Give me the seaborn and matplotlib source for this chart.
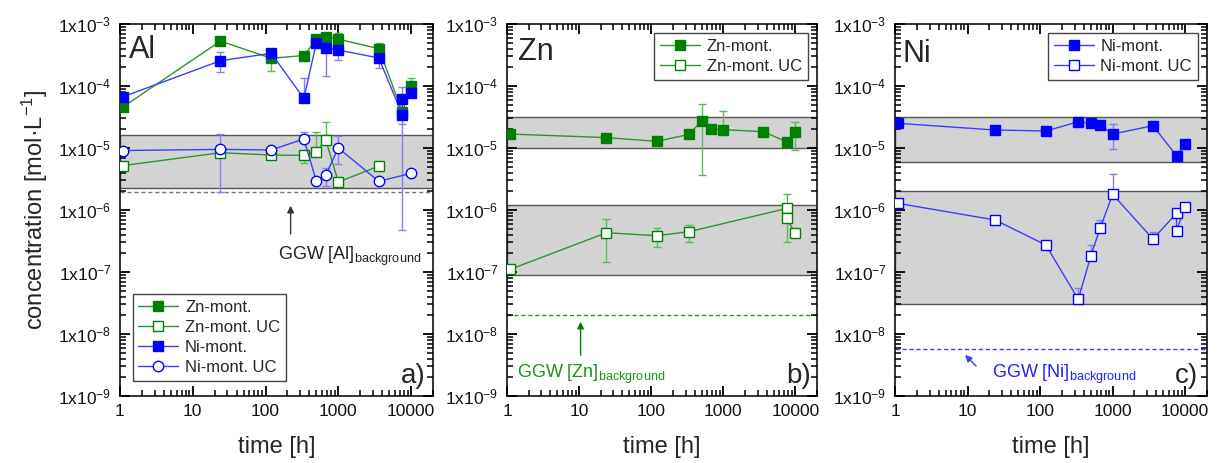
import numpy as np
import matplotlib
matplotlib.use("Agg")
import matplotlib.pyplot as plt
from matplotlib.ticker import FixedLocator, LogLocator, FuncFormatter, NullFormatter
import seaborn as sns

sns.set_theme(style="ticks")
plt.rcParams["font.family"] = ["Liberation Sans", "DejaVu Sans"]
plt.rcParams["mathtext.default"] = "regular"

# ---------------- data ----------------
# (a) aluminium release
al_zn_t = [1.1, 24, 120, 336, 500, 672, 1000, 3600, 7600, 10000]
al_zn_c = [4.6e-5, 5.3e-4, 2.8e-4, 3.1e-4, 5.7e-4, 6.2e-4, 5.7e-4, 4.0e-4, 3.8e-5, 1.0e-4]
al_zn_lo = [None, None, 1.75e-4, None, None, None, None, 3.3e-4, 3.0e-5, 7.5e-5]
al_zn_hi = [None, None, None, None, None, 7.0e-4, 7.1e-4, 5.0e-4, None, 1.33e-4]

al_ni_t = [1.1, 24, 120, 336, 500, 672, 1000, 3600, 7600, 7600, 10000]
al_ni_c = [6.7e-5, 2.56e-4, 3.37e-4, 6.3e-5, 5.0e-4, 4.15e-4, 3.8e-4, 2.83e-4, 3.4e-5, 6.2e-5, 7.6e-5]
al_ni_lo = [None, 1.68e-4, None, None, 4.3e-4, 1.47e-4, 2.63e-4, 1.93e-4, 2.44e-5, 4.75e-7, None]
al_ni_hi = [None, 3.5e-4, None, 1.33e-4, 5.9e-4, None, None, None, None, 9.8e-5, None]

al_znuc_t = [1.1, 24, 120, 336, 500, 672, 1000, 3600]
al_znuc_c = [5.2e-6, 8.4e-6, 7.7e-6, 7.6e-6, 8.7e-6, 1.35e-5, 2.83e-6, 5.1e-6]
al_znuc_lo = [None, None, None, 5.7e-6, None, None, None, None]
al_znuc_hi = [None, None, None, None, 1.8e-5, 2.66e-5, None, None]

al_niuc_t = [1.1, 24, 120, 336, 500, 672, 1000, 3600, 10000]
al_niuc_c = [9.1e-6, 9.5e-6, 9.3e-6, 1.4e-5, 2.9e-6, 3.67e-6, 1.0e-5, 2.9e-6, 3.9e-6]
al_niuc_lo = [None, 1.93e-6, None, None, None, 2.4e-6, 5.5e-6, None, None]
al_niuc_hi = [None, 1.66e-5, None, 1.79e-5, None, 4.8e-6, 1.58e-5, None, None]

al_bands = [(2.3e-6, 1.62e-5)]
al_ggw = 1.93e-6

# (b) zinc release
zn_t = [1.1, 24, 120, 336, 500, 672, 1000, 3600, 7600, 10000]
zn_c = [1.68e-5, 1.47e-5, 1.28e-5, 1.66e-5, 2.72e-5, 2.0e-5, 1.98e-5, 1.83e-5, 1.26e-5, 1.79e-5]
zn_lo = [None, None, None, None, 3.7e-6, None, None, None, None, 9.4e-6]
zn_hi = [None, None, None, None, 5.1e-5, None, 3.95e-5, None, None, 2.63e-5]

znuc_t = [1.1, 24, 120, 336, 7600, 7600, 10000]
znuc_c = [1.1e-7, 4.3e-7, 3.85e-7, 4.47e-7, 1.06e-6, 7.3e-7, 4.2e-7]
znuc_lo = [None, 1.47e-7, 2.57e-7, 3.09e-7, None, 3.1e-7, None]
znuc_hi = [None, 7.2e-7, 5.06e-7, 5.7e-7, 1.8e-6, None, None]

zn_bands = [(1.0e-5, 3.2e-5), (9.0e-8, 1.19e-6)]
zn_ggw = 2.0e-8

# (c) nickel release
ni_t = [1.1, 24, 120, 336, 500, 672, 1000, 3600, 7600, 10000]
ni_c = [2.5e-5, 1.95e-5, 1.88e-5, 2.65e-5, 2.5e-5, 2.35e-5, 1.68e-5, 2.29e-5, 7.5e-6, 1.16e-5]
ni_lo = [None, None, None, None, None, None, 9.8e-6, None, None, None]
ni_hi = [None, None, None, None, None, None, 2.4e-5, None, None, None]

niuc_t = [1.1, 24, 120, 336, 500, 672, 1000, 3600, 7600, 7600, 10000]
niuc_c = [1.28e-6, 6.9e-7, 2.73e-7, 3.63e-8, 1.81e-7, 5.07e-7, 1.79e-6, 3.4e-7, 8.85e-7, 4.65e-7, 1.13e-6]
niuc_lo = [None, None, None, None, None, None, None, 2.8e-7, None, None, None]
niuc_hi = [None, None, None, 5.5e-8, 2.7e-7, 6.9e-7, 3.77e-6, 4.5e-7, 1.03e-6, None, None]

ni_bands = [(6.0e-6, 3.13e-5), (3.0e-8, 2.0e-6)]
ni_ggw = 5.7e-9

x_ticks = [1, 10, 100, 1000, 10000]
x_tick_labels = ["1", "10", "100", "1000", "10000"]
y_decades = [1e-9, 1e-8, 1e-7, 1e-6, 1e-5, 1e-4, 1e-3]

# ---------------- style ----------------
GREEN = "#008000"
GREEN_LINE = "#2a962a"
GREEN_ERR = "#5cb85c"
BLUE = "#0000ff"
BLUE_LINE = "#3c3cff"
BLUE_ERR = "#8080ff"

fig = plt.figure(figsize=(12.2, 4.63), dpi=100)
ax_a = fig.add_axes([120 / 1220, 67 / 463, 313 / 1220, 372 / 463])
ax_b = fig.add_axes([507 / 1220, 67 / 463, 310 / 1220, 372 / 463])
ax_c = fig.add_axes([895 / 1220, 67 / 463, 312 / 1220, 372 / 463])


def series(ax, t, c, lo, hi, color, line_color, err_color, marker, filled, label, ms=6.5):
    face = color if filled else "white"
    sns.lineplot(x=t, y=c, ax=ax, sort=False, estimator=None, color=line_color,
                 lw=1.0, marker=marker, markersize=ms, markerfacecolor=face,
                 markeredgecolor=color, markeredgewidth=1.0, label=label, zorder=4)
    idx = [i for i in range(len(c)) if lo[i] is not None or hi[i] is not None]
    if idx:
        tx = [t[i] for i in idx]
        cy = [c[i] for i in idx]
        el = [c[i] - lo[i] if lo[i] is not None else 0.0 for i in idx]
        eh = [hi[i] - c[i] if hi[i] is not None else 0.0 for i in idx]
        ax.errorbar(tx, cy, yerr=[el, eh], fmt="none", ecolor=err_color,
                    elinewidth=1.0, capsize=3, capthick=1.0, zorder=3)


def decorate(ax, bands, ggw, ggw_color):
    for lo, hi in bands:
        ax.axhspan(lo, hi, facecolor="#d3d3d3", edgecolor="#555555", lw=1.0, zorder=0)
    ax.axhline(ggw, color=ggw_color, lw=1.0, ls=(0, (3, 2)), zorder=1)
    ax.set_xscale("log")
    ax.set_yscale("log")
    ax.set_xlim(1, 2e4)
    ax.set_ylim(1e-9, 1e-3)
    ax.set_axisbelow(False)
    ax.xaxis.set_major_locator(FixedLocator(x_ticks))
    ax.xaxis.set_major_formatter(FuncFormatter(
        lambda v, p: x_tick_labels[x_ticks.index(round(v))] if round(v) in x_ticks else ""))
    ax.xaxis.set_minor_locator(LogLocator(base=10, subs=np.arange(2, 10), numticks=20))
    ax.xaxis.set_minor_formatter(NullFormatter())
    ax.yaxis.set_major_locator(FixedLocator(y_decades))
    ax.yaxis.set_major_formatter(FuncFormatter(lambda v, p: "1x10$^{%d}$" % int(round(np.log10(v)))))
    ax.yaxis.set_minor_locator(LogLocator(base=10, subs=np.arange(2, 10), numticks=20))
    ax.yaxis.set_minor_formatter(NullFormatter())
    ax.tick_params(which="both", direction="in", top=True, right=True, bottom=True, left=True,
                   color="black", width=1.3)
    ax.tick_params(which="major", length=7, labelsize=12.5, pad=6, labelcolor="#111111")
    ax.tick_params(which="minor", length=4, width=1.1)
    for s in ax.spines.values():
        s.set_color("#222222")
        s.set_linewidth(1.3)
    ax.set_xlabel("time [h]", fontsize=17, labelpad=12)
    ax.set_ylabel("")


# ---- panel a ----
series(ax_a, al_zn_t, al_zn_c, al_zn_lo, al_zn_hi, GREEN, GREEN_LINE, GREEN_ERR, "s", True, "Zn-mont.")
series(ax_a, al_znuc_t, al_znuc_c, al_znuc_lo, al_znuc_hi, GREEN, GREEN_LINE, GREEN_ERR, "s", False, "Zn-mont. UC")
series(ax_a, al_ni_t, al_ni_c, al_ni_lo, al_ni_hi, BLUE, BLUE_LINE, BLUE_ERR, "s", True, "Ni-mont.")
series(ax_a, al_niuc_t, al_niuc_c, al_niuc_lo, al_niuc_hi, BLUE, BLUE_LINE, BLUE_ERR, "o", False, "Ni-mont. UC", ms=7.5)
decorate(ax_a, al_bands, al_ggw, "#777777")
ax_a.set_ylabel("concentration [mol·L$^{-1}$]", fontsize=17, labelpad=6)
ax_a.annotate("", xy=(221, 1.3e-6), xytext=(221, 3.7e-7),
              arrowprops=dict(arrowstyle="-|>", color="#333333", lw=1.0, mutation_scale=10))
ax_a.text(146, 1.56e-7, "GGW [Al]$_{background}$", fontsize=13, color="#222222", va="baseline")
ax_a.text(0.03, 0.93, "Al", transform=ax_a.transAxes, fontsize=22, va="center", ha="left")
ax_a.text(0.975, 0.02, "a)", transform=ax_a.transAxes, fontsize=20, va="bottom", ha="right")
leg = ax_a.legend(loc="lower left", bbox_to_anchor=(0.04, 0.04), borderaxespad=0,
                  fontsize=12, handlelength=2.4, labelspacing=0.3, handletextpad=0.4,
                  fancybox=False, edgecolor="#444444", framealpha=1, borderpad=0.35)
leg.get_frame().set_linewidth(1.0)

# ---- panel b ----
series(ax_b, zn_t, zn_c, zn_lo, zn_hi, GREEN, GREEN_LINE, GREEN_ERR, "s", True, "Zn-mont.")
series(ax_b, znuc_t, znuc_c, znuc_lo, znuc_hi, GREEN, GREEN_LINE, GREEN_ERR, "s", False, "Zn-mont. UC")
decorate(ax_b, zn_bands, zn_ggw, GREEN_LINE)
ax_b.annotate("", xy=(10.5, 1.75e-8), xytext=(10.5, 4.1e-9),
              arrowprops=dict(arrowstyle="-|>", color=GREEN, lw=1.0, mutation_scale=10))
ax_b.text(1.37, 1.95e-9, "GGW [Zn]$_{background}$", fontsize=13, color="#1f8f1f", va="baseline")
ax_b.text(0.035, 0.925, "Zn", transform=ax_b.transAxes, fontsize=22, va="center", ha="left")
ax_b.text(0.98, 0.02, "b)", transform=ax_b.transAxes, fontsize=20, va="bottom", ha="right")
leg = ax_b.legend(loc="upper right", bbox_to_anchor=(0.97, 0.975), borderaxespad=0,
                  fontsize=12, handlelength=2.4, labelspacing=0.3, handletextpad=0.4,
                  fancybox=False, edgecolor="#444444", framealpha=1, borderpad=0.35)
leg.get_frame().set_linewidth(1.0)

# ---- panel c ----
series(ax_c, ni_t, ni_c, ni_lo, ni_hi, BLUE, BLUE_LINE, BLUE_ERR, "s", True, "Ni-mont.")
series(ax_c, niuc_t, niuc_c, niuc_lo, niuc_hi, BLUE, BLUE_LINE, BLUE_ERR, "s", False, "Ni-mont. UC")
decorate(ax_c, ni_bands, ni_ggw, BLUE_LINE)
ax_c.annotate("", xy=(8.67, 4.94e-9), xytext=(13.96, 2.83e-9),
              arrowprops=dict(arrowstyle="-|>", color=BLUE_LINE, lw=1.0, mutation_scale=10))
ax_c.text(21.8, 1.95e-9, "GGW [Ni]$_{background}$", fontsize=13, color="#2020ff", va="baseline")
ax_c.text(0.025, 0.92, "Ni", transform=ax_c.transAxes, fontsize=22, va="center", ha="left")
ax_c.text(0.97, 0.02, "c)", transform=ax_c.transAxes, fontsize=20, va="bottom", ha="right")
leg = ax_c.legend(loc="upper right", bbox_to_anchor=(0.97, 0.975), borderaxespad=0,
                  fontsize=12, handlelength=2.4, labelspacing=0.3, handletextpad=0.4,
                  fancybox=False, edgecolor="#444444", framealpha=1, borderpad=0.35)
leg.get_frame().set_linewidth(1.0)

fig.savefig("out.png", dpi=100, facecolor="white")
